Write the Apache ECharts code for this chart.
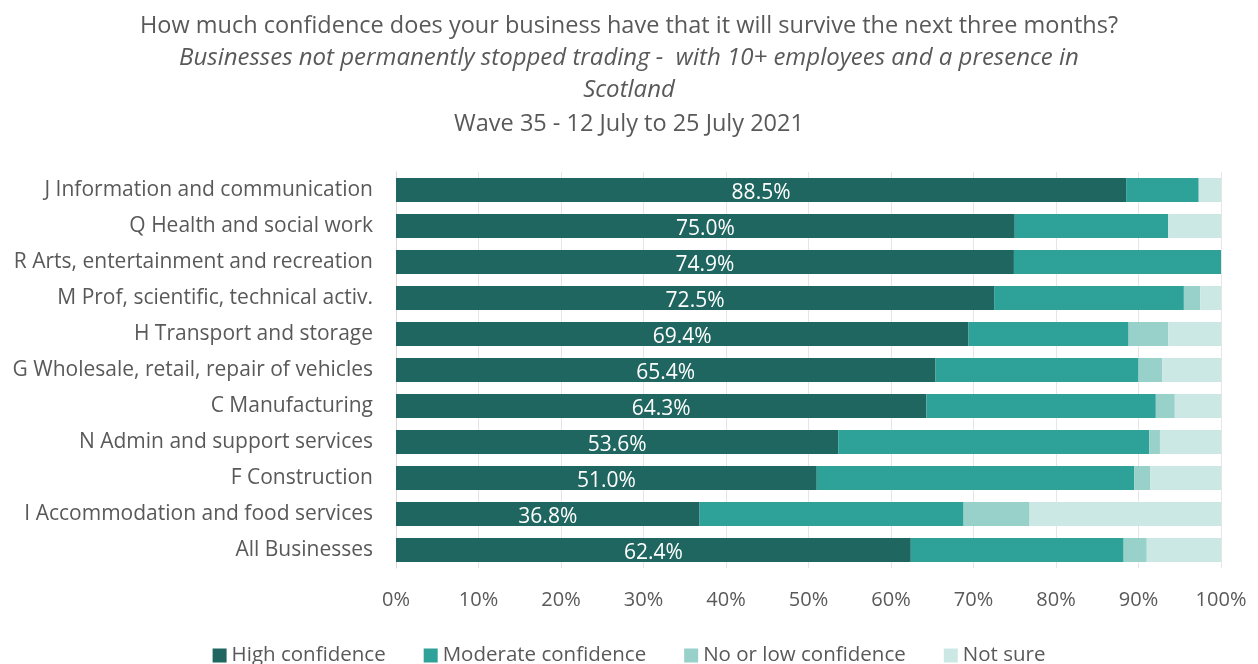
<!DOCTYPE html>
<html>
<head>
<meta charset="utf-8">
<script src="https://cdn.jsdelivr.net/npm/echarts@6/dist/echarts.min.js"></script>
<style>html,body{margin:0;padding:0;background:#fff}#c{width:1258px;height:664px}</style>
</head>
<body>
<div id="c"></div>
<script>
const categories = [
  "J Information and communication",
  "Q Health and social work",
  "R Arts, entertainment and recreation",
  "M Prof, scientific, technical activ.",
  "H Transport and storage",
  "G Wholesale, retail, repair of vehicles",
  "C Manufacturing",
  "N Admin and support services",
  "F Construction",
  "I Accommodation and food services",
  "All Businesses"
];
const highConfidence     = [88.5, 75.0, 74.9, 72.5, 69.4, 65.4, 64.3, 53.6, 51.0, 36.8, 62.4];
const moderateConfidence = [ 8.8, 18.6, 25.1, 23.0, 19.4, 24.6, 27.8, 37.7, 38.5, 32.0, 25.8];
const noLowConfidence    = [ 0.0,  0.0,  0.0,  2.0,  4.8,  2.9,  2.3,  1.3,  1.9,  8.0,  2.8];
const notSure            = [ 2.7,  6.4,  0.0,  2.5,  6.4,  7.1,  5.6,  7.4,  8.6, 23.2,  9.0];
const seriesNames = ["High confidence", "Moderate confidence", "No or low confidence", "Not sure"];
const xTicks = [0, 10, 20, 30, 40, 50, 60, 70, 80, 90, 100];

const colors = ["#1E665F", "#2EA198", "#97D1CA", "#CCE8E4"];
const font = "'Open Sans'";
const chart = echarts.init(document.getElementById('c'));
const datasets = [highConfidence, moderateConfidence, noLowConfidence, notSure];

chart.setOption({
  animation: false,
  textStyle: { fontFamily: font },
  title: [
    { text: "How much confidence does your business have that it will survive the next three months?", left: 'center', top: 9, textStyle: { fontSize: 23.5, fontWeight: 'normal', color: '#595959', fontFamily: font } },
    { text: "Businesses not permanently stopped trading -  with 10+ employees and a presence in", left: 'center', top: 41, textStyle: { fontSize: 24, fontWeight: 'normal', fontStyle: 'italic', color: '#595959', fontFamily: font } },
    { text: "Scotland", left: 'center', top: 73, textStyle: { fontSize: 24, fontWeight: 'normal', fontStyle: 'italic', color: '#595959', fontFamily: font } },
    { text: "Wave 35 - 12 July to 25 July 2021", left: 'center', top: 107, textStyle: { fontSize: 23.5, fontWeight: 'normal', color: '#595959', fontFamily: font } }
  ],
  legend: {
    top: 640, left: 'center', itemWidth: 14, itemHeight: 14, itemGap: 38,
    icon: 'rect',
    textStyle: { fontSize: 20.5, color: '#595959', fontFamily: font },
    data: seriesNames
  },
  grid: { left: 396, right: 37, top: 172, bottom: 96, containLabel: false },
  xAxis: {
    type: 'value', min: 0, max: 100, interval: 10,
    axisLabel: { formatter: v => v + '%', fontSize: 20, color: '#595959', margin: 22, fontFamily: font },
    splitLine: { show: true, lineStyle: { color: '#E6E6E6', width: 1 } },
    axisLine: { show: false }, axisTick: { show: false }
  },
  yAxis: {
    type: 'category', data: categories, inverse: true,
    axisLabel: { fontSize: 21, color: '#595959', margin: 23, fontFamily: font },
    axisLine: { show: true, lineStyle: { color: '#D9D9D9', width: 1 } },
    axisTick: { show: false }
  },
  series: seriesNames.map((name, i) => ({
    name, type: 'bar', stack: 'total', data: datasets[i],
    barWidth: 24,
    itemStyle: { color: colors[i] },
    label: i === 0 ? {
      show: true, position: 'inside', color: '#fff', fontSize: 21, offset: [0, 3],
      fontFamily: font,
      formatter: p => p.value.toFixed(1) + '%'
    } : { show: false }
  }))
});
</script>
</body>
</html>
